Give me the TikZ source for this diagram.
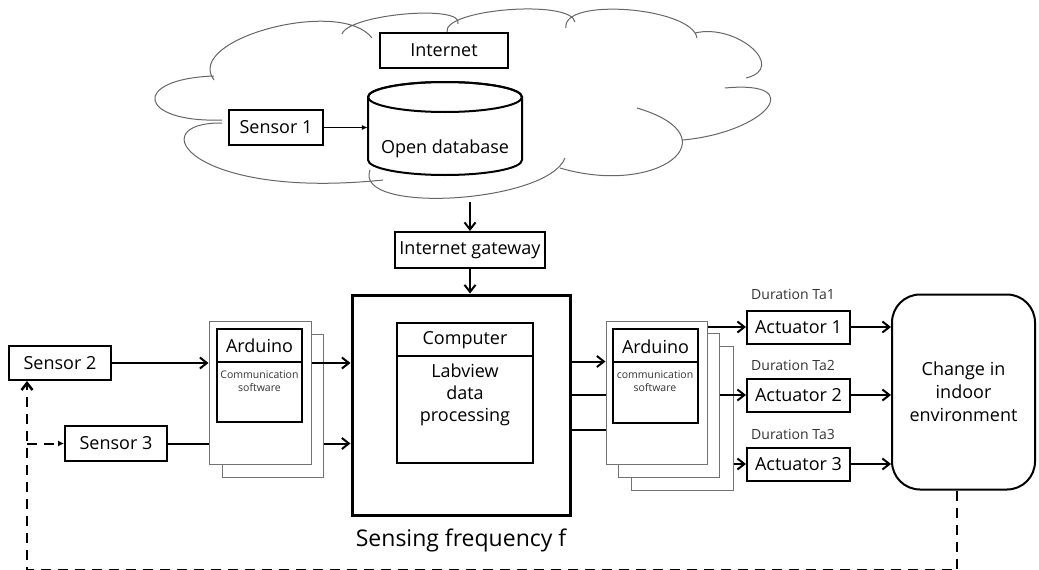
\documentclass[tikz,border=0pt]{standalone}
\usepackage{fontspec}
\setmainfont{Open Sans}
\usetikzlibrary{arrows.meta,calc}
\tikzset{
  box/.style={draw, line width=2pt, fill=white, inner sep=0pt, font=\fontsize{18}{21}\selectfont},
  sheet/.style={draw=black!55, line width=1pt, fill=white, inner sep=0pt},
  txt/.style={inner sep=0pt, align=center, font=\fontsize{18}{22}\selectfont},
  smalltxt/.style={inner sep=0pt, align=center, text=black!80, font=\fontsize{10.5}{13}\selectfont},
  durtxt/.style={inner sep=0pt, text=black!80, font=\fontsize{14}{16}\selectfont},
  arrow/.style={line width=2pt, -{Straight Barb[length=7pt,width=11pt]}},
  thinarrow/.style={line width=1pt, -{Latex[length=6pt,width=5pt]}},
  feedback/.style={line width=2.5pt, dash pattern=on 10pt off 7pt},
  cloudline/.style={draw=black!60, line width=1pt},
}

\begin{document}
\begin{tikzpicture}[x=1pt,y=-1pt]
			%%%%% START %%%%%
			\useasboundingbox (0,0) rectangle (1039,570);
			
			% cloud
			\draw[cloudline] (222,120) .. controls (138,123) and (130,79) .. (214,76)
			(214,80) .. controls (183,39) and (341,-3) .. (372,38)
			(342,34) .. controls (349,14) and (465,4) .. (458,24)
			(447,32) .. controls (443,9) and (571,-1) .. (575,22)
			(566,28) .. controls (561,-3) and (692,7) .. (697,38)
			(695,33) .. controls (737,23) and (788,68) .. (746,78)
			(725,88) .. controls (809,80) and (767,132) .. (683,140)
			(637,108) .. controls (735,137) and (658,197) .. (560,168)
			(565,158) .. controls (548,203) and (353,215) .. (370,170)
			(222,123) .. controls (140,122) and (190,200) .. (383,180);
			
			\node[box, minimum width=128pt, minimum height=35pt] (inet) at (444,50.5) {Internet};
			
			% database
			\draw[line width=2pt, fill=white] (368,97) -- (368,160) arc[start angle=180, end angle=360, x radius=77pt, y radius=15pt] -- (522,97) arc[start angle=0, end angle=180, x radius=77pt, y radius=15pt] -- cycle;
			\draw[line width=2pt] (445,97) ellipse [x radius=77pt, y radius=15pt];
			\node[inner sep=0pt, minimum width=154pt, minimum height=93pt, text height=55pt, text depth=5pt, font=\fontsize{18}{21}\selectfont] (db) at (445,128.5) {Open database};
			
			\node[box, minimum width=94pt, minimum height=35pt] (s1) at (276,127.5) {Sensor 1};
			\draw[thinarrow] (s1.east) -- (s1.east -| db.west);
			
			\coordinate (cloudbot) at (470,202);
			\node[box, minimum width=150pt, minimum height=36pt] (gw) at (470,250) {Internet gateway};
			\draw[arrow] (cloudbot) -- (gw.north);
			
			% computer
			\node[box, line width=3pt, minimum width=218pt, minimum height=220pt] (pc) at (461,405) {};
			\node[box, minimum width=136pt, minimum height=140pt] (cpu) at (465,393) {};
			\draw[line width=2pt] ([yshift=-34pt]cpu.north west) -- ([yshift=-34pt]cpu.north east);
			\node[txt] (cpuname) at (465,340) {Computer};
			\node[txt] (cpusoft) at (465,395) {Labview\\data\\processing};
			\node[txt, font=\fontsize{23}{27}\selectfont] (freq) at (461,540) {Sensing frequency f};
			\draw[arrow] (gw.south) -- (gw.south |- pc.north);
			
			% left arduino
			\node[sheet, minimum width=101pt, minimum height=143pt] (ardLback) at (272.5,405.5) {};
			\node[sheet, minimum width=102pt, minimum height=143pt] (ardL) at (260,392.5) {};
			\node[box, minimum width=85pt, minimum height=93pt] (ardLin) at (259.5,375.5) {};
			\draw[line width=2pt] ([yshift=-34pt]ardLin.north west) -- ([yshift=-34pt]ardLin.north east);
			\node[txt] (ardLname) at (259.5,346) {Arduino};
			\node[smalltxt] (ardLsoft) at (259.5,381.5) {Communication\\software};
			
			\node[box, minimum width=102pt, minimum height=34pt] (s2) at (60,363) {Sensor 2};
			\node[box, minimum width=102pt, minimum height=35pt] (s3) at (116,443.5) {Sensor 3};
			\draw[arrow] (s2.east) -- (s2.east -| ardL.west);
			\draw[arrow] (s2.east -| ardL.east) -- (s2.east -| pc.west);
			\draw[line width=2pt] (s3.east) -- (s3.east -| ardL.west);
			\draw[arrow] (s3.east -| ardLback.east) -- (s3.east -| pc.west);
			
			% right arduino
			\node[sheet, minimum width=102pt, minimum height=144pt] (ardR3) at (682,418) {};
			\node[sheet, minimum width=101pt, minimum height=144pt] (ardR2) at (668.5,405) {};
			\node[sheet, minimum width=101pt, minimum height=143pt] (ardR1) at (656.5,392.5) {};
			\node[box, minimum width=85pt, minimum height=94pt] (ardRin) at (655.5,376) {};
			\draw[line width=2pt] ([yshift=-34pt]ardRin.north west) -- ([yshift=-34pt]ardRin.north east);
			\node[txt] (ardRname) at (655.5,347) {Arduino};
			\node[smalltxt] (ardRsoft) at (655,381.5) {communication\\software};
			
			\draw[arrow] ([yshift=-68pt]pc.north east) coordinate (o1) -- (o1 -| ardR1.west);
			\draw[line width=2pt] ([yshift=-101pt]pc.north east) coordinate (o2) -- (o2 -| ardR1.west);
			\draw[line width=2pt] ([yshift=-136pt]pc.north east) coordinate (o3) -- (o3 -| ardR1.west);
			
			% actuators
			\node[box, minimum width=103pt, minimum height=33pt] (act1) at (798.5,327) {Actuator 1};
			\node[box, minimum width=103pt, minimum height=33pt] (act2) at (798.5,395) {Actuator 2};
			\node[box, minimum width=103pt, minimum height=33pt] (act3) at (798.5,464) {Actuator 3};
			\node[durtxt] (dur1) at (793,294) {Duration Ta1};
			\node[durtxt] (dur2) at (793,365) {Duration Ta2};
			\node[durtxt] (dur3) at (793,434) {Duration Ta3};
			
			\node[box, rounded corners=28pt, minimum width=143pt, minimum height=195pt, align=center, font=\fontsize{18}{23}\selectfont] (env) at (963.5,392) {Change in\\indoor\\environment};
			
			\draw[arrow] (act1.west -| ardR1.east) -- (act1.west);
			\draw[arrow] (act2.west -| ardR2.east) -- (act2.west);
			\draw[arrow] (act3.west -| ardR3.east) -- (act3.west);
			\draw[arrow] (act1.east) -- (act1.east -| env.west);
			\draw[arrow] (act2.east) -- (act2.east -| env.west);
			\draw[arrow] (act3.east) -- (act3.east -| env.west);
			
			% feedback
			\coordinate (fbR) at (957,570.3);
			\coordinate (fbL) at (27,570.3);
			\draw[feedback, -{Straight Barb[length=7pt,width=11pt]}] ([xshift=-6.5pt]env.south) -- (fbR) -- (fbL) -- (fbL |- s2.south);
			\draw[feedback, line width=2pt, -{Latex[length=6pt,width=6pt]}] (fbL |- s3.west) -- (s3.west);
			%%%%% END %%%%%
		\end{tikzpicture}
\end{document}
